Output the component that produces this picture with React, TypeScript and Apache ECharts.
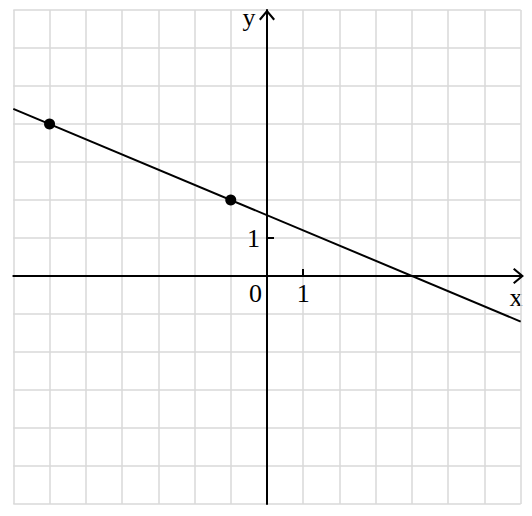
import { useEffect, useRef } from "react";
import * as echarts from "echarts";

// axis ranges
const X_RANGE = [-7, 7];
const Y_RANGE = [-6, 7];

// the two marked points
const POINTS: [number, number][] = [
  [-6, 4],
  [-1, 2],
];

// visible ends of the straight line
const LINE_ENDS: [number, number][] = [
  [-7, 4.4],
  [7, -1.2],
];

const X_TICKS = [1];
const X_LABELS = [0, 1];
const Y_TICKS = [1];
const Y_LABELS = [1];

const FONT = "'Liberation Serif', 'Times New Roman', serif";
const GRID_COLOR = "#d9d9d9";

// layout of the plotting area in px
const W = 532;
const H = 516;
const GRID = { left: 13.3, right: 11.3, top: 10, bottom: 12 };
const PLOT_W = W - GRID.left - GRID.right;
const PLOT_H = H - GRID.top - GRID.bottom;

// shift the axes from the grid edge onto the zero lines
const X_AXIS_SHIFT = -((0 - Y_RANGE[0]) / (Y_RANGE[1] - Y_RANGE[0])) * PLOT_H;
const Y_AXIS_SHIFT = -((0 - X_RANGE[0]) / (X_RANGE[1] - X_RANGE[0])) * PLOT_W;

// open chevron, tip up (axisLine rotates it along the axis)
const ARROW = "path://M8,0 L16,9.6 L14.4,11 L8,3.2 L1.6,11 L0,9.6 Z";

const labelStyle = {
  color: "#000",
  fontFamily: FONT,
  fontSize: 26,
};

const tickStyle = {
  show: true,
  inside: true,
  length: 7,
  lineStyle: { color: "#000", width: 2 },
};

export default function App() {
  const ref = useRef<HTMLDivElement | null>(null);

  useEffect(() => {
    const el = ref.current;
    if (!el) {
      return;
    }
    const chart = echarts.init(el, null, { renderer: "svg" });

    const lineStyle = { color: "#000", width: 2 };

    chart.setOption({
      animation: false,
      backgroundColor: "#fff",
      textStyle: { fontFamily: FONT },
      grid: GRID,
      xAxis: [
        // grid lines only
        {
          type: "value",
          min: X_RANGE[0],
          max: X_RANGE[1],
          interval: 1,
          axisLine: { show: false },
          axisTick: { show: false },
          axisLabel: { show: false },
          splitLine: { show: true, lineStyle: { color: GRID_COLOR, width: 1.5 } },
        },
        // the drawn x axis
        {
          type: "value",
          position: "bottom",
          offset: X_AXIS_SHIFT,
          min: X_RANGE[0],
          max: X_RANGE[1],
          interval: 1,
          axisLine: {
            show: true,
            onZero: false,
            symbol: ["none", ARROW],
            symbolSize: [16, 11],
            symbolOffset: [0, -2.2],
            lineStyle,
          },
          axisTick: { ...tickStyle, customValues: X_TICKS },
          axisLabel: {
            ...labelStyle,
            customValues: X_LABELS,
            margin: 4,
            formatter: (v: number) => (v === 0 ? "{z|0}" : String(v)),
            rich: {
              z: { ...labelStyle, padding: [0, 23, 0, 0] },
            },
          },
          splitLine: { show: false },
        },
      ],
      yAxis: [
        {
          type: "value",
          min: Y_RANGE[0],
          max: Y_RANGE[1],
          interval: 1,
          axisLine: { show: false },
          axisTick: { show: false },
          axisLabel: { show: false },
          splitLine: { show: true, lineStyle: { color: GRID_COLOR, width: 1.5 } },
        },
        {
          type: "value",
          position: "left",
          offset: Y_AXIS_SHIFT,
          min: Y_RANGE[0],
          max: Y_RANGE[1],
          interval: 1,
          axisLine: {
            show: true,
            onZero: false,
            symbol: ["none", ARROW],
            symbolSize: [16, 11],
            symbolOffset: [0, -5],
            lineStyle,
          },
          axisTick: { ...tickStyle, customValues: Y_TICKS },
          axisLabel: { ...labelStyle, customValues: Y_LABELS, margin: 7 },
          splitLine: { show: false },
        },
      ],
      series: [
        {
          type: "line",
          data: LINE_ENDS,
          showSymbol: false,
          lineStyle,
          z: 5,
        },
        {
          type: "scatter",
          data: POINTS,
          symbolSize: 11,
          itemStyle: { color: "#000", opacity: 1 },
          z: 6,
        },
      ],
      graphic: [
        {
          type: "text",
          x: 249,
          y: 4,
          style: {
            text: "y",
            font: `26px ${FONT}`,
            fill: "#000",
            align: "center",
            verticalAlign: "top",
          },
        },
        {
          type: "text",
          x: 516,
          y: 284,
          style: {
            text: "x",
            font: `26px ${FONT}`,
            fill: "#000",
            align: "center",
            verticalAlign: "top",
          },
        },
      ],
    });

    return () => {
      chart.dispose();
    };
  }, []);

  return (
    <div
      ref={ref}
      style={{ position: "fixed", left: 0, top: 0, width: W, height: H }}
    />
  );
}
